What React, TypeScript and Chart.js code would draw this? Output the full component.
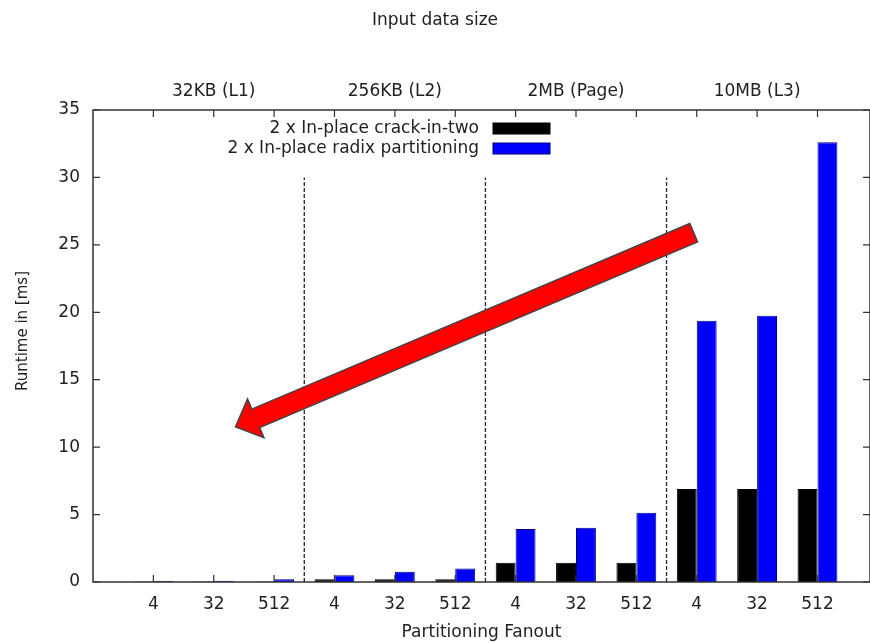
import React, { useEffect, useRef } from 'react';
import { Chart, registerables } from 'chart.js';

Chart.register(...registerables);

// ---- data ----
const fanoutLabels = ['4', '32', '512', '4', '32', '512', '4', '32', '512', '4', '32', '512'];
const sizeGroupLabels = ['32KB (L1)', '256KB (L2)', '2MB (Page)', '10MB (L3)'];
const sizeGroupCenters = [1, 4, 7, 10];
const groupSeparators = [2.5, 5.5, 8.5];
const separatorTop = 30;
const crackInTwo = [0.03, 0.03, 0.03, 0.2, 0.2, 0.2, 1.43, 1.43, 1.43, 6.9, 6.9, 6.9];
const radixPartitioning = [0.08, 0.1, 0.2, 0.5, 0.76, 1.0, 3.93, 4.02, 5.14, 19.37, 19.74, 32.6];
const yTicks = [0, 5, 10, 15, 20, 25, 30, 35];
const seriesNames = ['2 x In-place crack-in-two', '2 x In-place radix partitioning'];
const arrowFrom = { x: 8.95, y: 25.9 };
const arrowTo = { x: 1.36, y: 11.5 };

const FONT = 'DejaVu Sans';
const TEXT = '#222';

const overlayPlugin = {
  id: 'overlay',
  beforeDatasetsDraw(chart: any) {
    const { ctx, scales } = chart;
    ctx.save();
    ctx.strokeStyle = '#333';
    ctx.lineWidth = 1.4;
    ctx.setLineDash([4, 2]);
    groupSeparators.forEach((v) => {
      const x = scales.x.getPixelForValue(v);
      ctx.beginPath();
      ctx.moveTo(x, scales.y.getPixelForValue(0));
      ctx.lineTo(x, scales.y.getPixelForValue(separatorTop));
      ctx.stroke();
    });
    ctx.restore();
  },
  afterDatasetsDraw(chart: any) {
    const { ctx, chartArea, scales } = chart;
    const { left, right, top, bottom } = chartArea;
    ctx.save();
    ctx.strokeStyle = '#333';
    ctx.lineWidth = 1.5;
    ctx.setLineDash([]);
    ctx.strokeRect(left, top, right - left, bottom - top);
    const tl = 7;
    ctx.lineWidth = 1.2;
    scales.x.ticks.forEach((t: any) => {
      const x = scales.x.getPixelForValue(t.value);
      ctx.beginPath();
      ctx.moveTo(x, bottom);
      ctx.lineTo(x, bottom - tl);
      ctx.moveTo(x, top);
      ctx.lineTo(x, top + tl);
      ctx.stroke();
    });
    scales.y.ticks.forEach((t: any) => {
      const y = scales.y.getPixelForValue(t.value);
      ctx.beginPath();
      ctx.moveTo(left, y);
      ctx.lineTo(left + tl, y);
      ctx.moveTo(right, y);
      ctx.lineTo(right - tl, y);
      ctx.stroke();
    });
    ctx.restore();
  },
  afterDraw(chart: any) {
    const { ctx, chartArea, scales } = chart;
    const { left, top, bottom } = chartArea;
    ctx.save();
    // legend (text left of swatch)
    ctx.font = `17px "${FONT}"`;
    ctx.textAlign = 'right';
    ctx.textBaseline = 'middle';
    const swRight = left + 457;
    const swW = 57;
    const swH = 11;
    chart.data.datasets.forEach((ds: any, i: number) => {
      const cy = top + 18.5 + i * 20;
      ctx.fillStyle = TEXT;
      ctx.fillText(ds.label, swRight - swW - 14, cy);
      ctx.fillStyle = ds.backgroundColor;
      ctx.fillRect(swRight - swW, cy - swH / 2, swW, swH);
      ctx.strokeStyle = ds.borderColor;
      ctx.lineWidth = 1;
      ctx.strokeRect(swRight - swW, cy - swH / 2, swW, swH);
    });
    // y axis title
    ctx.save();
    ctx.translate(left - 70, (top + bottom) / 2 - 15);
    ctx.rotate(-Math.PI / 2);
    ctx.textAlign = 'center';
    ctx.fillStyle = TEXT;
    ctx.font = `15px "${FONT}"`;
    ctx.fillText('Runtime in [ms]', 0, 0);
    ctx.restore();
    // arrow annotation
    const tx = scales.x.getPixelForValue(arrowFrom.x);
    const ty = scales.y.getPixelForValue(arrowFrom.y);
    const px = scales.x.getPixelForValue(arrowTo.x);
    const py = scales.y.getPixelForValue(arrowTo.y);
    const len = Math.hypot(px - tx, py - ty);
    const ux = (px - tx) / len;
    const uy = (py - ty) / len;
    const nx = -uy;
    const ny = ux;
    const w = 10;
    const hw = 21;
    const hl = 22;
    const hx = px - ux * hl;
    const hy = py - uy * hl;
    ctx.beginPath();
    ctx.moveTo(tx + nx * w, ty + ny * w);
    ctx.lineTo(hx + nx * w, hy + ny * w);
    ctx.lineTo(hx + nx * hw, hy + ny * hw);
    ctx.lineTo(px, py);
    ctx.lineTo(hx - nx * hw, hy - ny * hw);
    ctx.lineTo(hx - nx * w, hy - ny * w);
    ctx.lineTo(tx - nx * w, ty - ny * w);
    ctx.closePath();
    ctx.fillStyle = '#ff0000';
    ctx.fill();
    ctx.strokeStyle = '#444';
    ctx.lineWidth = 1.5;
    ctx.lineJoin = 'miter';
    ctx.stroke();
    ctx.restore();
  },
};

export default function App() {
  const ref = useRef<HTMLCanvasElement | null>(null);

  useEffect(() => {
    if (!ref.current) return;
    const font = { family: FONT, size: 17 };
    const chart = new Chart(ref.current, {
      type: 'bar',
      data: {
        datasets: [
          {
            label: seriesNames[0],
            data: crackInTwo.map((v, i) => ({ x: i, y: v })),
            backgroundColor: '#000000',
            borderColor: '#000000',
            borderWidth: 1,
            categoryPercentage: 0.66,
            barPercentage: 1.0,
          },
          {
            label: seriesNames[1],
            data: radixPartitioning.map((v, i) => ({ x: i, y: v })),
            backgroundColor: '#0000ff',
            borderColor: '#000080',
            borderWidth: 1,
            categoryPercentage: 0.66,
            barPercentage: 1.0,
          },
        ],
      } as any,
      options: {
        animation: false,
        responsive: false,
        devicePixelRatio: 1,
        layout: { padding: 0 },
        plugins: {
          legend: { display: false },
          tooltip: { enabled: false },
          title: {
            display: true,
            text: 'Input data size',
            color: TEXT,
            font: { family: FONT, size: 17, weight: 'normal' },
            padding: { top: 10, bottom: 0 },
          },
        },
        scales: {
          x: {
            type: 'linear',
            position: 'bottom',
            min: -1,
            max: 11.87,
            offset: false,
            afterBuildTicks: (s: any) => {
              s.ticks = fanoutLabels.map((_, i) => ({ value: i }));
            },
            afterFit: (s: any) => {
              s.height = 61;
            },
            ticks: {
              autoSkip: false,
              maxRotation: 0,
              padding: 12,
              color: TEXT,
              font,
              callback: (v: any) => fanoutLabels[v] ?? '',
            },
            grid: { display: false, drawTicks: false },
            border: { display: false },
            title: {
              display: true,
              text: 'Partitioning Fanout',
              color: TEXT,
              font,
              padding: { top: 0, bottom: 0 },
            },
          },
          x2: {
            type: 'linear',
            position: 'top',
            min: -1,
            max: 11.87,
            offset: false,
            afterBuildTicks: (s: any) => {
              s.ticks = sizeGroupCenters.map((v) => ({ value: v }));
            },
            afterFit: (s: any) => {
              s.height = 110 - 30.4;
            },
            ticks: {
              autoSkip: false,
              maxRotation: 0,
              padding: 8,
              color: TEXT,
              font,
              callback: (v: any) => sizeGroupLabels[sizeGroupCenters.indexOf(v)] ?? '',
            },
            grid: { display: false, drawTicks: false },
            border: { display: false },
          },
          y: {
            min: 0,
            max: 35,
            afterBuildTicks: (s: any) => {
              s.ticks = yTicks.map((v) => ({ value: v }));
            },
            afterFit: (s: any) => {
              s.width = 93;
            },
            ticks: { padding: 13, color: TEXT, font },
            grid: { display: false, drawTicks: false },
            border: { display: false },
          },
        },
      } as any,
      plugins: [overlayPlugin],
    });
    return () => chart.destroy();
  }, []);

  return (
    <div style={{ position: 'absolute', left: 0, top: 0, width: 870, height: 643, background: '#fff', overflow: 'hidden' }}>
      <canvas ref={ref} width={870} height={643} style={{ display: 'block' }} />
    </div>
  );
}
